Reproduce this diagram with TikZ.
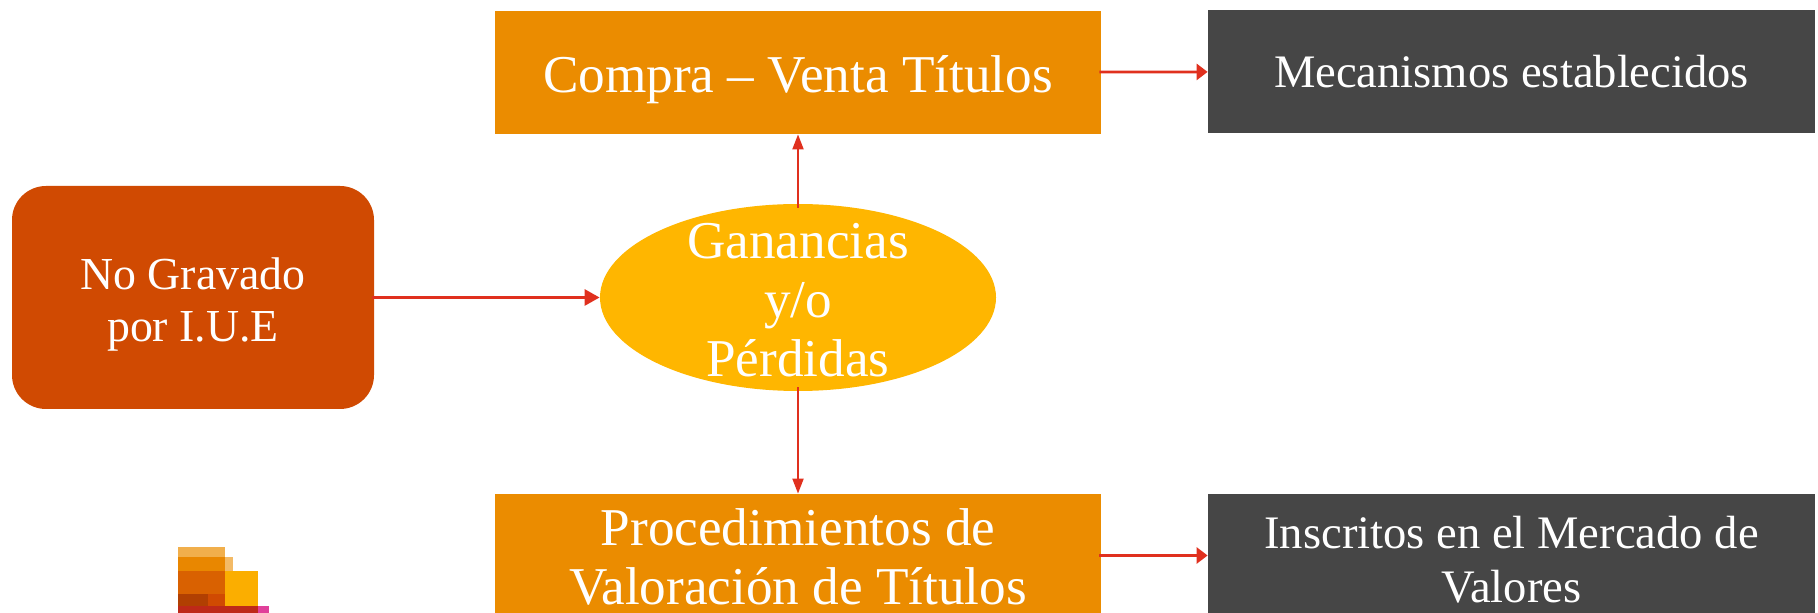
\documentclass[tikz,border=0pt]{standalone}
\usepackage{fontspec}
\setmainfont{Liberation Serif}
\usetikzlibrary{
  arrows.meta,
  shapes.geometric
}
\definecolor{pwcorange}{HTML}{EB8C00}
\definecolor{pwcdark}{HTML}{464646}
\definecolor{pwcrust}{HTML}{D04A02}
\definecolor{pwcyellow}{HTML}{FFB600}
\definecolor{pwcred}{HTML}{E0301E}
\definecolor{pwcpink}{HTML}{E0409A}
\tikzset{
  basebox/.style={
    inner sep=0pt,
    text=white,
    align=center,
    font=\fontsize{26.6}{29.5}\selectfont
  },
  orangebox/.style={
    basebox,
    rectangle,
    fill=pwcorange,
    minimum width=303pt,
    minimum height=61.5pt
  },
  darkbox/.style={
    basebox,
    rectangle,
    fill=pwcdark,
    minimum width=303.5pt,
    minimum height=61.5pt,
    font=\fontsize{23.3}{27}\selectfont
  },
  sidebox/.style={
    basebox,
    rectangle,
    rounded corners=17pt,
    fill=pwcrust,
    minimum width=181pt,
    minimum height=111.5pt,
    font=\fontsize{22.9}{26}\selectfont
  },
  centreoval/.style={
    basebox,
    ellipse,
    inner ysep=-8pt,
    fill=pwcyellow,
    minimum width=198pt,
    minimum height=93.5pt
  },
  flatarrow/.style={
    draw=pwcred,
    line width=1.4pt,
    -{Triangle[length=5.5pt,width=8pt]},
    shorten <=-1pt
  },
  widearrow/.style={
    flatarrow,
    -{Triangle[length=7.5pt,width=8pt]}
  },
  tallarrow/.style={
    draw=pwcred,
    line width=1pt,
    -{Triangle[length=7.5pt,width=5.5pt]},
    shorten <=-2pt
  },
  logobar/.style={
    draw=none,
    fill=#1
  }
}
\begin{document}
\begin{tikzpicture}[x=0.5pt,y=-0.5pt]
  \useasboundingbox (0,0) rectangle (1818,613);
  \node[sidebox,text height=48.6pt,text depth=5pt] (nogravado) at (193,297.5) {No Gravado\\por I.U.E};
  \node[centreoval,text height=79.4pt,text depth=0.3pt] (ganancias) at (798,297.5) {Ganancias\\y/o\\Pérdidas};
  \node[orangebox,text height=26pt,text depth=5.75pt] (compra) at (798,72.5) {Compra – Venta Títulos};
  \node[orangebox,text height=49.5pt,text depth=0.3pt] (valoracion) at (798,555.5) {Procedimientos de\\Valoración de Títulos};
  \node[darkbox] (mecanismos) at (1511.5,71.5) {Mecanismos establecidos};
  \node[darkbox,text height=47.4pt,text depth=0.3pt] (inscritos) at (1511.5,555.5) {Inscritos en el Mercado de\\Valores};
  \draw[widearrow] (nogravado) -- (ganancias);
  \draw[tallarrow] (ganancias) -- (compra);
  \draw[tallarrow] (ganancias) -- (valoracion);
  \draw[flatarrow] (compra) -- (mecanismos);
  \draw[flatarrow] (valoracion) -- (inscritos);
  \fill[logobar=pwcorange!70!white] (178,547) rectangle (225,557);
  \fill[logobar=pwcorange!60!white] (225,557) rectangle (233,571);
  \fill[logobar=pwcorange!92!pwcrust] (178,557) rectangle (225,571);
  \fill[logobar=pwcyellow!80!pwcorange] (225,571) rectangle (258,606);
  \fill[logobar=pwcrust!65!pwcorange] (178,571) rectangle (225,594);
  \fill[logobar=pwcrust!85!black] (178,594) rectangle (208,606);
  \fill[logobar=pwcrust] (208,594) rectangle (225,606);
  \fill[logobar=pwcred!85!black] (178,606) rectangle (258,613);
  \fill[logobar=pwcpink] (258,606) rectangle (269,613);
\end{tikzpicture}
\end{document}
